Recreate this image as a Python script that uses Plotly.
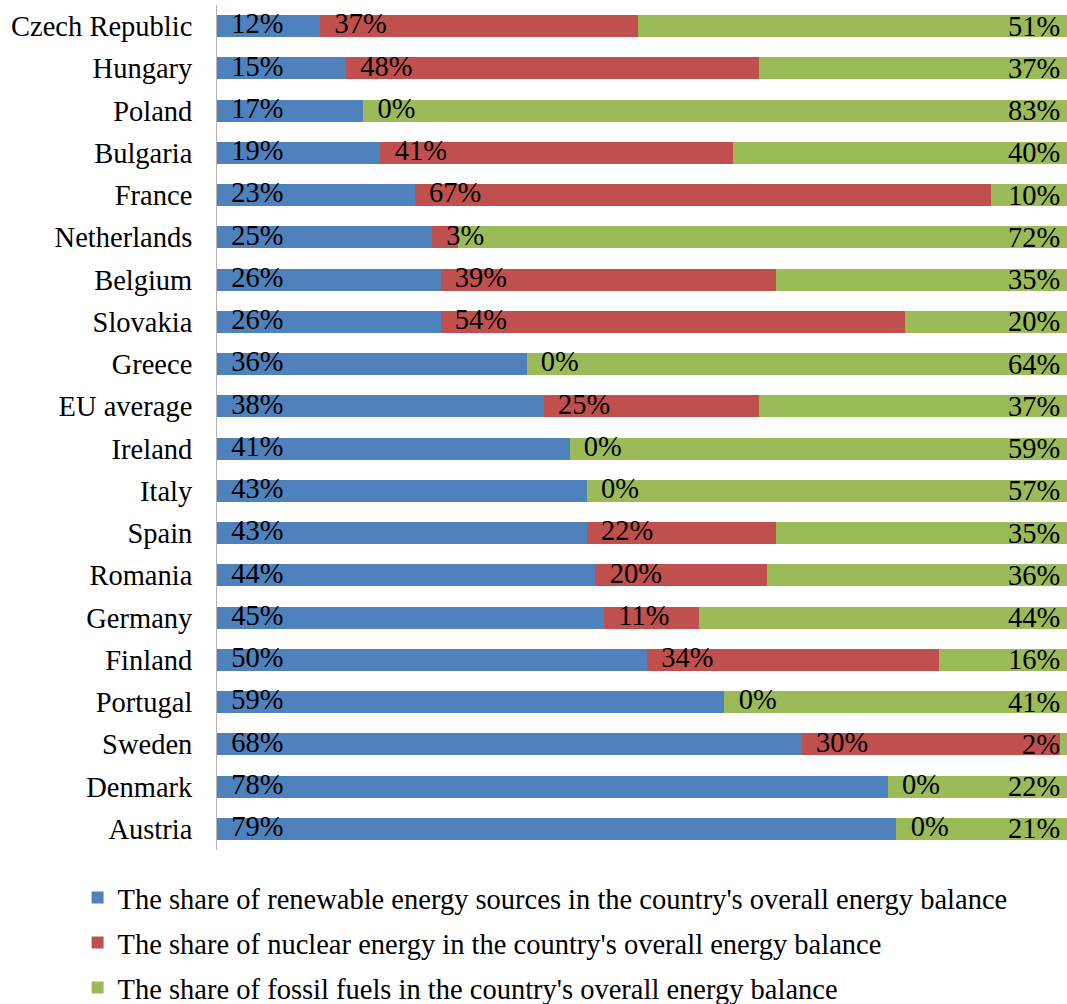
import plotly.graph_objects as go

countries = ["Czech Republic", "Hungary", "Poland", "Bulgaria", "France", "Netherlands",
             "Belgium", "Slovakia", "Greece", "EU average", "Ireland", "Italy", "Spain",
             "Romania", "Germany", "Finland", "Portugal", "Sweden", "Denmark", "Austria"]
renewable = [12, 15, 17, 19, 23, 25, 26, 26, 36, 38, 41, 43, 43, 44, 45, 50, 59, 68, 78, 79]
nuclear = [37, 48, 0, 41, 67, 3, 39, 54, 0, 25, 0, 0, 22, 20, 11, 34, 0, 30, 0, 0]
fossil = [51, 37, 83, 40, 10, 72, 35, 20, 64, 37, 59, 57, 35, 36, 44, 16, 41, 2, 22, 21]

names = ["The share of renewable energy sources in the country's overall energy balance",
         "The share of nuclear energy in the country's overall energy balance",
         "The share of fossil fuels in the country's overall energy balance"]
colors = ["#4F81BD", "#C0504D", "#9BBB59"]

FONT = "Liberation Serif, Times New Roman, serif"
FS = 28.5
NB = "\u00a0"

fig = go.Figure()
for i, (vals, name, col) in enumerate(zip([renewable, nuclear, fossil], names, colors)):
    fig.add_trace(go.Bar(
        y=countries, x=vals, name=name, orientation="h",
        marker=dict(color=col, line=dict(width=0)),
        legendgroup=f"g{i}", hoverinfo="x+y",
    ))

# value labels: renewable at bar start, nuclear at start of red segment
fig.add_trace(go.Scatter(
    y=countries, x=[0] * len(countries), mode="text",
    text=[f"{NB}{NB}{v}%" for v in renewable], textposition="middle right",
    textfont=dict(family=FONT, size=FS, color="#000"), showlegend=False,
    cliponaxis=False, hoverinfo="skip"))
fig.add_trace(go.Scatter(
    y=countries, x=renewable, mode="text",
    text=[f"{NB}{NB}{v}%" for v in nuclear], textposition="middle right",
    textfont=dict(family=FONT, size=FS, color="#000"), showlegend=False,
    cliponaxis=False, hoverinfo="skip"))

# fossil labels at the right end of each (100%) bar
for c, v in zip(countries, fossil):
    fig.add_annotation(
        x=1, xref="paper", y=c, yref="y", text=f"{v}%",
        xanchor="right", yanchor="middle", xshift=-5, showarrow=False,
        font=dict(family=FONT, size=FS, color="#000"))

fig.update_layout(
    barmode="stack",
    width=1067, height=1004,
    margin=dict(l=217, r=0, t=5, b=154, autoexpand=False),
    paper_bgcolor="white", plot_bgcolor="white",
    font=dict(family=FONT, size=FS, color="#000"),
    bargap=0.48,
    showlegend=True,
    legend=dict(
        orientation="v", x=-0.164, xanchor="left",
        yref="container", y=0.131, yanchor="top",
        font=dict(family=FONT, size=FS, color="#000"),
        tracegroupgap=5, bgcolor="rgba(0,0,0,0)",
    ),
    xaxis=dict(range=[0, 98.84], visible=False, showgrid=False, zeroline=False, fixedrange=True),
    yaxis=dict(
        range=[len(countries) - 0.5, -0.5], showgrid=False, zeroline=False,
        showline=True, linecolor="#b3b3b3", linewidth=1,
        ticks="", ticklabelstandoff=18,
        tickfont=dict(family=FONT, size=FS, color="#000"),
    ),
)

fig.write_html("out.html")
